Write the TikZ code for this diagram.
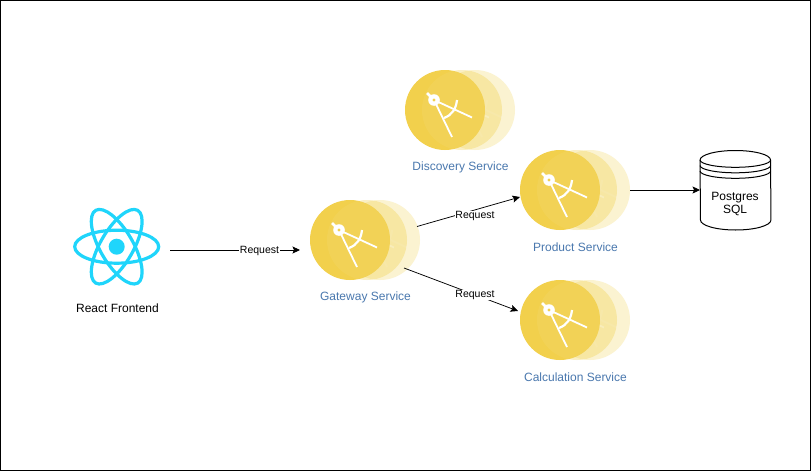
\documentclass[tikz,border=0pt]{standalone}
\usepackage{fontspec}
\setmainfont{Liberation Sans}
\usetikzlibrary{arrows.meta}
\definecolor{svcyellow}{HTML}{EFC92F}
\definecolor{svcmain}{HTML}{F2D04C}
\definecolor{svcblue}{HTML}{4A78AE}
\definecolor{reactblue}{HTML}{1FD5FB}
\tikzset{
  conn/.style={draw=black,line width=0.75pt,-{Stealth[length=7.5pt,width=7pt,inset=1.5pt]}},
  condlabel/.style={fill=white,inner sep=0.6pt,font=\fontsize{10.5}{12}\selectfont,text=black},
  svclabel/.style={font=\fontsize{12}{14}\selectfont,text=svcblue,inner sep=0pt},
  blacklabel/.style={font=\fontsize{12}{14}\selectfont,text=black,inner sep=0pt,align=center},
  hub/.style={circle,minimum size=80pt,inner sep=0pt,draw=none},
  compassline/.style={draw=white,line width=1.8pt},
}
\newcommand{\compassicon}[3]{%
  \begin{scope}[shift={(#1,#2)},opacity=#3]
    \draw[compassline,line width=2.6pt] (-11,-10) -- (-18,-17);
    \draw[compassline] (-11,-10) -- (27,7.5);
    \draw[compassline] (-11,-10) -- (7,27);
    \draw[compassline,line width=2.2pt] (12,-10) .. controls (11,-1) and (7,5) .. (-1,8);
    \fill[white] (-11,-10) circle (5.8);
    \fill[svcmain] (-11,-10) circle (1.7);
  \end{scope}}
\newcommand{\service}[3]{%
  \fill[svcyellow,opacity=0.22] (#2+30,#3) circle (40);
  \compassicon{#2+30}{#3}{0.2}
  \fill[svcyellow,opacity=0.28] (#2+17,#3) circle (40);
  \compassicon{#2+17}{#3}{0.25}
  \fill[svcmain] (#2,#3) circle (40);
  \begin{scope}
    \clip (#2,#3) circle (40);
    \fill[white,opacity=0.06] (#2+17,#3) circle (40);
  \end{scope}
  \compassicon{#2}{#3}{1}
  \node[hub] (#1) at (#2,#3) {};}
\begin{document}
\begin{tikzpicture}[x=1pt,y=-1pt]
  \useasboundingbox (0,0) rectangle (811,471);
  \fill[white] (0,0) rectangle (811,471);
  \draw[black,line width=1pt] (0.5,0.5) rectangle (810.5,470.5);

  % React logo
  \begin{scope}[shift={(116.7,246.7)}]
    \foreach \a in {0,60,120}
      \draw[reactblue,line width=3.2pt,rotate=\a] (0,0) ellipse (42 and 16.5);
    \fill[reactblue] (0,0) circle (8);
  \end{scope}
  \node[circle,minimum size=106.6pt,inner sep=0pt] (react) at (116.7,250) {};
  \node[blacklabel] (reactlabel) at (117.5,308) {React Frontend};

  % Services
  \service{discovery}{445}{110}
  \service{gateway}{350}{240}
  \service{product}{560}{190}
  \service{calculation}{560}{320}
  \node[svclabel] (discoverylabel) at (460.5,167.5) {Discovery Service};
  \node[svclabel] (gatewaylabel) at (365.5,297.5) {Gateway Service};
  \node[svclabel] (productlabel) at (575.5,247) {Product Service};
  \node[svclabel] (calculationlabel) at (575.5,377) {Calculation Service};

  % Database
  \node[minimum width=70.5pt,minimum height=80pt,inner sep=0pt] (db) at (735.5,190) {};
  \draw[black,line width=1pt,fill=white]
    (db.west |- 0,160) arc[start angle=180,end angle=360,x radius=35.25,y radius=9.5]
    -- (db.east |- 0,220) arc[start angle=0,end angle=180,x radius=35.25,y radius=10] -- cycle;
  \foreach \d in {0,5.5,11}
    \draw[black,line width=1pt] (db.west |- 0,160+\d) arc[start angle=180,end angle=0,x radius=35.25,y radius=7.3];
  \node[blacklabel] (dblabel) at (735,204.5) {Postgres\\[-1pt]SQL};

  % Connector ends
  \coordinate (gatewayin) at (300,250);
  \coordinate (gatewayup) at (417,226.5);
  \coordinate (gatewaydown) at (404,268);
  \coordinate (productin) at (520,197);
  \coordinate (calculationin) at (518,311);
  \coordinate (productout) at (630,190);

  % Connectors
  \draw[conn] (react.east) -- (gatewayin);
  \draw[conn] (gatewayup) -- (productin);
  \draw[conn] (gatewaydown) -- (calculationin);
  \draw[conn] (productout) -- (db.west);
  \node[condlabel] (req1) at (259.5,251) {Request};
  \node[condlabel] (req2) at (475,216) {Request};
  \node[condlabel] (req3) at (475,295) {Request};
\end{tikzpicture}
\end{document}
